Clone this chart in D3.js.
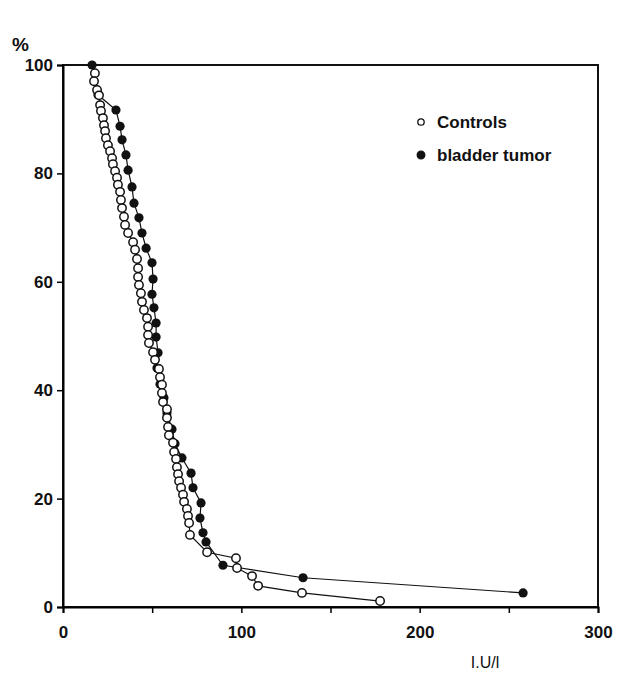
<!DOCTYPE html>
<html>
<head>
<meta charset="utf-8">
<script src="https://cdn.jsdelivr.net/npm/d3@7"></script>
<style>
  body { margin: 0; background: #fff; }
  text { font-family: "Liberation Sans", Arial, sans-serif; fill: #111; }
</style>
</head>
<body>
<svg id="chart" width="626" height="679"></svg>
<script>
// cumulative percentage (%) against enzyme activity (I.U/l)
const controlsX = [17.9, 17.4, 19.1, 20.2, 20.8, 21.3, 22.4, 23.0, 23.6, 24.1, 25.2, 26.4, 27.5, 28.0,
  29.2, 30.3, 30.8, 32.0, 32.5, 33.1, 34.2, 34.8, 36.5, 39.3, 40.4, 41.5, 42.1, 42.1, 42.6, 43.7,
  44.3, 45.4, 47.1, 47.7, 47.7, 48.2, 50.5, 51.6, 53.8, 54.4, 55.5, 55.5, 56.1, 58.3, 58.3, 58.9,
  59.4, 61.7, 62.3, 63.4, 63.9, 64.5, 65.1, 66.2, 67.3, 67.9, 69.5, 70.1, 70.7, 71.2, 80.8, 97.0,
  97.6, 106.0, 109.4, 134.0, 177.8];
const controlsY = [98.5, 97.0, 95.4, 94.4, 92.6, 91.5, 90.2, 88.9, 87.8, 86.5, 85.2, 84.1, 82.8, 81.7,
  80.4, 79.2, 77.9, 76.6, 75.1, 73.6, 72.0, 70.5, 69.0, 67.3, 65.9, 64.2, 62.5, 60.9, 59.4, 57.9,
  56.3, 54.8, 53.3, 51.7, 50.2, 48.7, 47.0, 45.6, 43.9, 42.4, 41.0, 39.5, 37.8, 36.5, 34.9, 33.2,
  31.7, 30.3, 28.6, 27.3, 25.8, 24.5, 23.2, 22.0, 20.7, 19.4, 18.1, 16.8, 15.5, 13.3, 10.1, 9.0,
  7.2, 5.7, 3.9, 2.6, 1.1];

const tumorX = [16.3, 19.6, 29.7, 32.0, 33.1, 35.3, 36.5, 38.7, 39.8, 42.6, 44.3, 46.6, 49.9, 50.5,
  49.9, 51.0, 52.2, 52.2, 53.3, 52.7, 54.4, 56.6, 58.3, 61.1, 62.8, 66.7, 71.8, 72.9, 77.4, 76.8,
  78.5, 80.2, 89.7, 134.6, 258.0];
const tumorY = [100.0, 94.5, 91.7, 88.7, 86.2, 83.4, 80.6, 77.5, 74.5, 71.8, 69.0, 66.2, 63.5, 60.5,
  57.7, 55.2, 52.4, 49.8, 46.9, 44.1, 41.1, 38.6, 35.8, 32.8, 30.1, 27.5, 24.7, 22.0, 19.2, 16.4,
  13.7, 12.0, 7.7, 5.4, 2.6];

const xTicks = [0, 50, 100, 150, 200, 250, 300];
const xLabels = [0, 100, 200, 300];
const yTicks = [0, 20, 40, 60, 80, 100];

const seriesNames = ["Controls", "bladder tumor"];

const svg = d3.select("#chart");
const m = {left: 63, right: 598, top: 65, bottom: 607};

const x = d3.scaleLinear().domain([0, 300]).range([m.left, m.right]);
const y = d3.scaleLinear().domain([0, 100]).range([m.bottom, m.top]);

// frame
svg.append("rect")
  .attr("x", m.left).attr("y", m.top)
  .attr("width", m.right - m.left).attr("height", m.bottom - m.top)
  .attr("fill", "none").attr("stroke", "#111").attr("stroke-width", 2);

// x axis
const xAxis = svg.append("g")
  .attr("transform", `translate(0, ${m.bottom})`)
  .call(d3.axisBottom(x).tickValues(xTicks).tickSize(6).tickFormat(d => xLabels.includes(d) ? d : ""));
xAxis.select(".domain").attr("stroke-width", 2);
xAxis.selectAll(".tick line").attr("stroke-width", 1.5);
xAxis.selectAll(".tick text")
  .attr("y", 19)
  .style("font-size", "17px").style("font-weight", "bold")
  .style("font-family", "Liberation Sans, Arial, sans-serif");

// y axis
const yAxis = svg.append("g")
  .attr("transform", `translate(${m.left}, 0)`)
  .call(d3.axisLeft(y).tickValues(yTicks).tickSize(6));
yAxis.select(".domain").attr("stroke-width", 2);
yAxis.selectAll(".tick line").attr("stroke-width", 1.5);
yAxis.selectAll(".tick text")
  .attr("x", -10)
  .style("font-size", "17px").style("font-weight", "bold")
  .style("font-family", "Liberation Sans, Arial, sans-serif");

// axis titles
svg.append("text")
  .attr("x", 12).attr("y", 51)
  .style("font-size", "19px").style("font-weight", "bold")
  .text("%");

svg.append("text")
  .attr("x", 485).attr("y", 668)
  .attr("text-anchor", "middle")
  .style("font-size", "16px")
  .text("I.U/l");

const line = d3.line().x(d => x(d[0])).y(d => y(d[1]));

const tumor = tumorX.map((v, i) => [v, tumorY[i]]);
const controls = controlsX.map((v, i) => [v, controlsY[i]]);

// bladder tumor series
svg.append("path")
  .datum(tumor)
  .attr("d", line)
  .attr("fill", "none").attr("stroke", "#111").attr("stroke-width", 1.2);

svg.append("g").selectAll("circle")
  .data(tumor)
  .join("circle")
  .attr("cx", d => x(d[0]))
  .attr("cy", d => y(d[1]))
  .attr("r", 4.6)
  .attr("fill", "#111");

// controls series
svg.append("path")
  .datum(controls)
  .attr("d", line)
  .attr("fill", "none").attr("stroke", "#111").attr("stroke-width", 1.2);

svg.append("g").selectAll("circle")
  .data(controls)
  .join("circle")
  .attr("cx", d => x(d[0]))
  .attr("cy", d => y(d[1]))
  .attr("r", 4.2)
  .attr("fill", "#fff")
  .attr("stroke", "#111")
  .attr("stroke-width", 1.5);

// legend
const legend = svg.append("g");
seriesNames.forEach((name, i) => {
  const ly = 122 + i * 33;
  legend.append("circle")
    .attr("cx", 421).attr("cy", ly)
    .attr("r", i === 0 ? 3.2 : 3.8)
    .attr("fill", i === 0 ? "#fff" : "#111")
    .attr("stroke", "#111").attr("stroke-width", 1.3);
  legend.append("text")
    .attr("x", 437).attr("y", ly + 6)
    .style("font-size", "17px").style("font-weight", "bold")
    .text(name);
});
</script>
</body>
</html>
